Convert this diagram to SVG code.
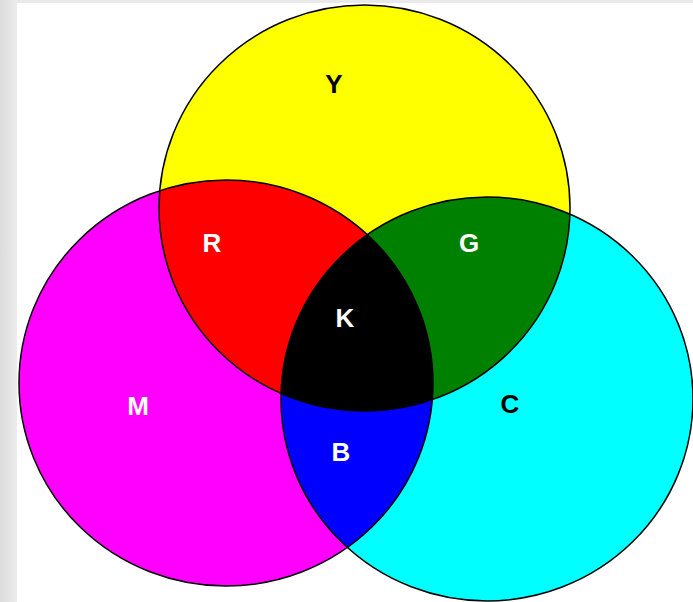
<svg xmlns="http://www.w3.org/2000/svg" width="693" height="602" viewBox="0 0 693 602">
<style>
.lbl{font-family:"Liberation Sans",Arial,sans-serif;font-size:26px;font-weight:bold;text-anchor:middle}
.w{fill:#ffffff}
.k{fill:#000000}
.edge{fill:none;stroke:#000000;stroke-width:1.5}
</style>
<defs>
<linearGradient id="side" x1="0" y1="0" x2="1" y2="0">
<stop offset="0" stop-color="#dcdcdc"/>
<stop offset="1" stop-color="#ececec"/>
</linearGradient>
<clipPath id="clipY"><ellipse cx="364.5" cy="208" rx="205.5" ry="203"/></clipPath>
<clipPath id="clipM"><ellipse cx="226" cy="383" rx="207" ry="203"/></clipPath>
<clipPath id="clipC"><ellipse cx="487" cy="399" rx="206" ry="202"/></clipPath>
</defs>
<rect x="0" y="0" width="693" height="602" fill="#e9e9e9"/>
<rect x="0" y="0" width="17" height="602" fill="url(#side)"/>
<rect x="17" y="3" width="676" height="599" fill="#ffffff"/>
<g id="Y"><ellipse cx="364.5" cy="208" rx="205.5" ry="203" fill="#ffff00"/></g>
<g id="M"><ellipse cx="226" cy="383" rx="207" ry="203" fill="#ff00ff"/></g>
<g id="C"><ellipse cx="487" cy="399" rx="206" ry="202" fill="#00ffff"/></g>
<g id="R"><ellipse cx="226" cy="383" rx="207" ry="203" fill="#ff0000" clip-path="url(#clipY)"/></g>
<g id="G"><ellipse cx="487" cy="399" rx="206" ry="202" fill="#008000" clip-path="url(#clipY)"/></g>
<g id="B"><ellipse cx="487" cy="399" rx="206" ry="202" fill="#0000ff" clip-path="url(#clipM)"/></g>
<g id="K"><g clip-path="url(#clipY)"><ellipse cx="487" cy="399" rx="206" ry="202" fill="#000000" clip-path="url(#clipM)"/></g></g>
<g id="connectors">
<ellipse class="edge" cx="364.5" cy="208" rx="205.5" ry="203"/>
<ellipse class="edge" cx="226" cy="383" rx="207" ry="203"/>
<ellipse class="edge" cx="487" cy="399" rx="206" ry="202"/>
</g>
<g id="labels">
<text class="lbl k" x="334" y="93">Y</text>
<text class="lbl w" x="212" y="252">R</text>
<text class="lbl w" x="469" y="252">G</text>
<text class="lbl w" x="345" y="327">K</text>
<text class="lbl w" x="138" y="415">M</text>
<text class="lbl k" x="510" y="413">C</text>
<text class="lbl w" x="341" y="461">B</text>
</g>
</svg>
